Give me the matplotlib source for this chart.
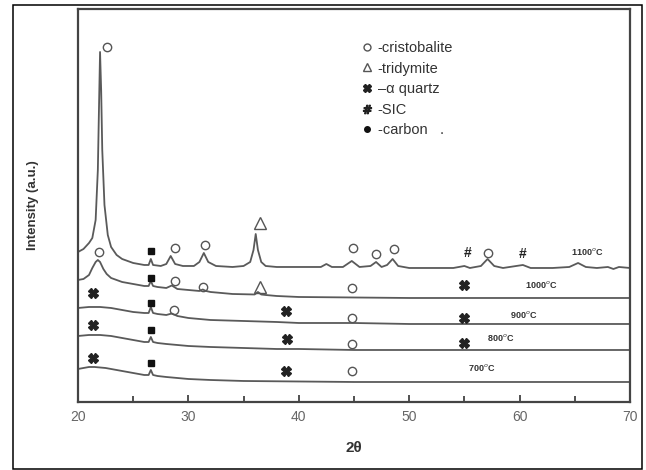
import numpy as np
import matplotlib
matplotlib.use('Agg')
import matplotlib.pyplot as plt
from matplotlib.lines import Line2D
from matplotlib.patches import Rectangle

plt.rcParams['font.family'] = ['Liberation Sans', 'DejaVu Sans']

# Diffractogrammes (2theta en degrés, intensité en u.a. décalée)
x_700 = [20, 20.5, 21, 21.5, 22, 22.5, 23, 24, 25, 26, 26.4, 26.6, 26.8, 27.2, 28, 29, 30, 32, 35, 40, 45, 50, 55, 60, 65, 70]
y_700 = [33, 34, 35, 35, 34.5, 34, 33, 31, 29, 27, 27, 32, 27, 26, 25, 24, 23, 22, 21, 20.5, 20, 20, 20, 20, 20, 20]

x_800 = [20, 21, 22, 23, 24, 25, 26, 26.4, 26.6, 26.8, 27.2, 28, 29, 30, 32, 35, 38, 40, 45, 50, 55, 60, 65, 70]
y_800 = [66, 67, 67, 66, 64, 62, 60, 60, 65, 60, 59, 58, 57, 56, 55, 54, 53, 53, 52, 52, 52, 52, 52, 52]

x_900 = [20, 21, 22, 23, 24, 25, 26, 26.4, 26.6, 26.8, 27.2, 28, 28.5, 29, 30, 32, 35, 38, 40, 45, 50, 55, 60, 65, 70]
y_900 = [94, 95, 95, 94, 92, 90, 89, 89, 95, 89, 88, 87, 88.5, 86, 84, 82, 81, 80, 79, 79, 78, 78, 78, 78, 78]

x_1000 = [20, 20.5, 21, 21.3, 21.6, 21.8, 22.0, 22.3, 22.6, 23, 24, 25, 26, 26.4, 26.6, 26.8, 27.2, 28, 28.5, 29,
          30, 31, 31.3, 31.6, 32, 34, 36, 36.3, 36.6, 37, 38, 40, 45, 50, 55, 60, 65, 70]
y_1000 = [122, 123, 127, 134, 140, 142, 140, 133, 128, 124, 120, 118, 116, 116, 121, 116, 115, 114, 116.5, 113,
          112, 111, 112.5, 111, 110, 108, 107.5, 110, 107.5, 107, 106, 105, 104.5, 104, 104, 104, 104, 104]

x_1100 = [20, 20.5, 21, 21.3, 21.6, 21.8, 21.9, 22.0, 22.1, 22.2, 22.4, 22.7, 23, 23.5, 24, 25, 26, 26.4, 26.6, 26.8,
          27.5, 28, 28.4, 28.8, 29.5, 30.5, 31, 31.4, 31.8, 32.5, 34, 35, 35.6, 35.9, 36.1, 36.3, 36.6, 37, 38, 40,
          42, 42.5, 43, 44, 44.8, 45.5, 46.5, 47, 47.5, 48, 48.5, 49, 50, 52, 54, 55, 55.5, 56.5, 57.1, 57.7,
          58.5, 60.3, 61, 63, 64.5, 65.3, 66, 67, 68, 68.5, 69, 70]
y_1100 = [150, 153, 159, 164, 182, 232, 292, 350, 312, 252, 197, 167, 155, 147, 143, 139, 137, 137, 143, 137,
          136, 138, 146, 138, 136, 136, 140, 149, 140, 136, 135, 136, 140, 152, 168, 152, 140, 136, 135, 135,
          135, 138, 135, 135, 141, 135, 136, 140, 135, 137, 143, 136, 134, 134, 134, 136, 134, 136, 143, 136,
          134, 137, 134, 134, 135, 139, 135, 134, 135, 133, 135, 134]

# Repères de phases (2theta, ordonnée)
cristo_x = [22.6, 28.8, 31.5, 44.9, 47.0, 48.6, 57.1, 21.9, 28.8, 31.3, 44.8, 28.7, 44.8, 44.8, 44.8]
cristo_y = [355, 154, 157, 154, 148, 153, 149, 150, 121, 115, 114, 92, 84, 58, 31]
tridy_x = [36.5, 36.5]
tridy_y = [179, 115]
quartz_x = [21.4, 38.8, 21.4, 38.9, 55.0, 21.4, 38.8, 55.0, 55.0]
quartz_y = [44, 31, 77, 63, 59, 109, 91, 84, 117]
sic_x = [55.3, 60.3]
sic_y = [149, 148]
carbon_x = [26.6, 26.6, 26.6, 26.6, 26.6]
carbon_y = [151, 124, 99, 72, 39]

temp_labels = ['1100$^{o}$C', '1000$^{o}$C', '900$^{o}$C', '800$^{o}$C', '700$^{o}$C']
temp_x = [66.1, 62.0, 60.4, 58.3, 56.6]
temp_y = [150, 117, 87, 64, 34]

gris = '#5a5a5a'

fig = plt.figure(figsize=(6.46, 4.70), dpi=100)
ax = fig.add_axes([0.1207, 0.1447, 0.8545, 0.8362])

for xs, ys in [(x_700, y_700), (x_800, y_800), (x_900, y_900), (x_1000, y_1000), (x_1100, y_1100)]:
    ax.plot(xs, ys, color=gris, linewidth=1.3)

ax.plot(cristo_x, cristo_y, 'o', markerfacecolor='none', markeredgecolor='#555555', markersize=6, markeredgewidth=1)
ax.plot(tridy_x, tridy_y, '^', markerfacecolor='none', markeredgecolor='#555555', markersize=8, markeredgewidth=1)
ax.plot(quartz_x, quartz_y, 'X', color='#222222', markersize=7)
ax.plot(carbon_x, carbon_y, 's', color='#111111', markersize=5)
for sx, sy in zip(sic_x, sic_y):
    ax.text(sx, sy, '#', ha='center', va='center', fontsize=10, fontweight='bold', color='#222222')

for lab, tx, ty in zip(temp_labels, temp_x, temp_y):
    ax.text(tx, ty, lab, ha='center', va='center', fontsize=6.5, fontweight='bold', color='#333333')

# Légende
handles = [
    Line2D([], [], ls='none', marker='o', mfc='none', mec='#555555', ms=5),
    Line2D([], [], ls='none', marker='^', mfc='none', mec='#555555', ms=6),
    Line2D([], [], ls='none', marker='X', color='#222222', ms=6),
    Line2D([], [], ls='none', marker='$\\#$', color='#222222', ms=6),
    Line2D([], [], ls='none', marker='o', color='#111111', ms=4),
]
labels = ['-cristobalite', '-tridymite', '\u2013\u03b1 quartz', '-SIC', '-carbon   .']
leg = ax.legend(handles, labels, loc='upper left', bbox_to_anchor=(0.49, 0.952), frameon=False,
                handlelength=0.8, handletextpad=0.3, labelspacing=0.45, fontsize=10.5)
for t in leg.get_texts():
    t.set_color('#333333')

ax.set_xlim(20, 70)
ax.set_ylim(0, 393)
ax.set_xticks([20, 30, 40, 50, 60, 70])
ax.set_xticks([25, 35, 45, 55, 65], minor=True)
ax.set_yticks([])
ax.tick_params(axis='x', direction='in', length=5, width=1.2, labelsize=10, labelcolor='#666666', pad=6, color='#333333')
ax.tick_params(axis='x', which='minor', direction='in', length=4, width=1.2, color='#333333')
for sp in ax.spines.values():
    sp.set_linewidth(1.6)
    sp.set_color('#444444')

ax.set_xlabel('2\u03b8', fontsize=11, fontweight='bold', color='#333333', labelpad=12)
ax.set_ylabel('Intensity (a.u.)', fontsize=9.5, fontweight='bold', color='#333333', labelpad=28)

# Cadre extérieur
fig.patches.append(Rectangle((0.0201, 0.002), 0.9737, 0.9872, transform=fig.transFigure,
                             fill=False, edgecolor='black', linewidth=1.1))

fig.savefig('out.png', dpi=100)
